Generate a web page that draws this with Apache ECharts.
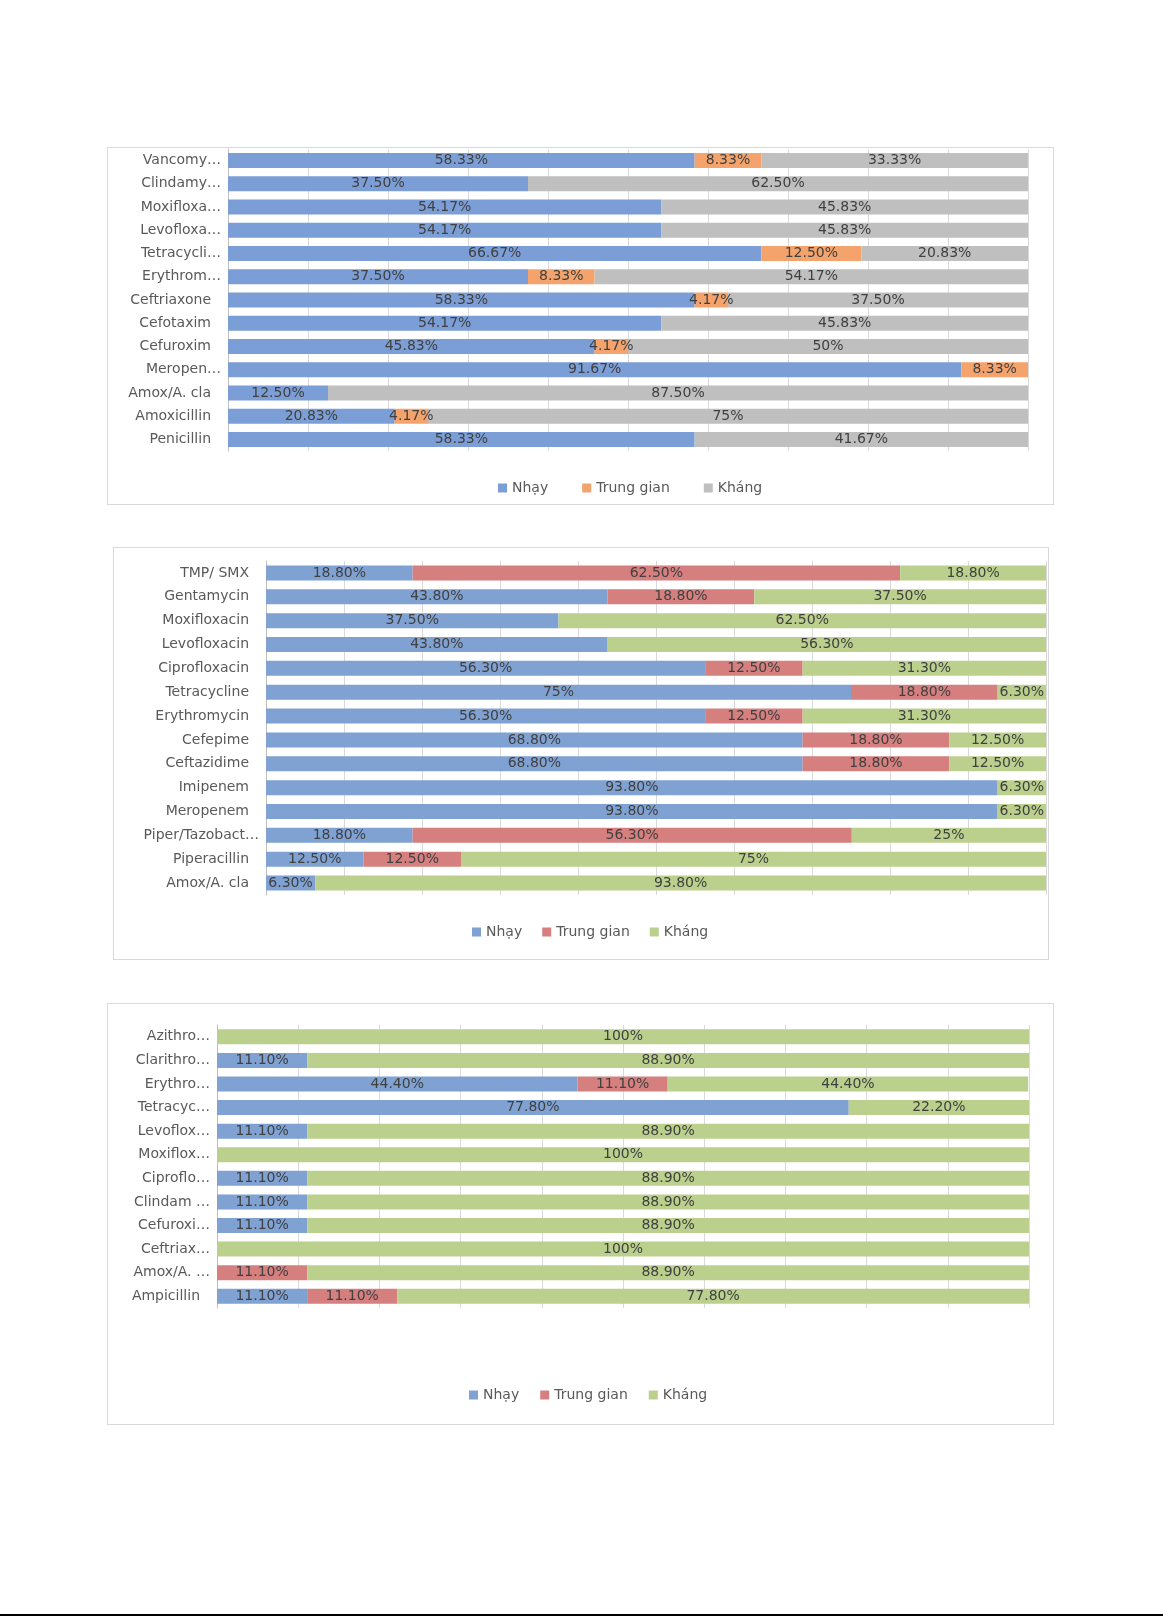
<!DOCTYPE html>
<html>
<head>
<meta charset="utf-8">
<script src="https://cdn.jsdelivr.net/npm/echarts@6/dist/echarts.min.js"></script>
<style>
  html, body { margin: 0; padding: 0; background: #fff; }
  body { width: 1163px; height: 1617px; position: relative; overflow: hidden; }
  .box { position: absolute; border: 1px solid #d9d9d9; box-sizing: border-box; background: #fff; }
  #pageline { position: absolute; left: 0; top: 1614px; width: 1163px; height: 2px; background: #000; }
</style>
</head>
<body>
<div id="c1" class="box" style="left:107px;top:147px;width:947px;height:358px;"></div>
<div id="c2" class="box" style="left:113px;top:547px;width:936px;height:413px;"></div>
<div id="c3" class="box" style="left:107px;top:1003px;width:947px;height:422px;"></div>
<div id="pageline"></div>
<script>
const seriesNames = ['Nhạy', 'Trung gian', 'Kháng'];

// Chart 1
const cats1 = ['Vancomy…', 'Clindamy…', 'Moxifloxa…', 'Levofloxa…', 'Tetracycli…', 'Erythrom…', 'Ceftriaxone', 'Cefotaxim', 'Cefuroxim', 'Meropen…', 'Amox/A. cla', 'Amoxicillin', 'Penicillin'];
const nhay1  = [58.33, 37.50, 54.17, 54.17, 66.67, 37.50, 58.33, 54.17, 45.83, 91.67, 12.50, 20.83, 58.33];
const trung1 = [8.33, 0, 0, 0, 12.50, 8.33, 4.17, 0, 4.17, 8.33, 0, 4.17, 0];
const khang1 = [33.33, 62.50, 45.83, 45.83, 20.83, 54.17, 37.50, 45.83, 50, 0, 87.50, 75, 41.67];

// Chart 2
const cats2 = ['TMP/ SMX', 'Gentamycin', 'Moxifloxacin', 'Levofloxacin', 'Ciprofloxacin', 'Tetracycline', 'Erythromycin', 'Cefepime', 'Ceftazidime', 'Imipenem', 'Meropenem', 'Piper/Tazobact…', 'Piperacillin', 'Amox/A. cla'];
const nhay2  = [18.80, 43.80, 37.50, 43.80, 56.30, 75, 56.30, 68.80, 68.80, 93.80, 93.80, 18.80, 12.50, 6.30];
const trung2 = [62.50, 18.80, 0, 0, 12.50, 18.80, 12.50, 18.80, 18.80, 0, 0, 56.30, 12.50, 0];
const khang2 = [18.80, 37.50, 62.50, 56.30, 31.30, 6.30, 31.30, 12.50, 12.50, 6.30, 6.30, 25, 75, 93.80];

// Chart 3
const cats3 = ['Azithro…', 'Clarithro…', 'Erythro…', 'Tetracyc…', 'Levoflox…', 'Moxiflox…', 'Ciproflo…', 'Clindam …', 'Cefuroxi…', 'Ceftriax…', 'Amox/A. …', 'Ampicillin'];
const nhay3  = [0, 11.10, 44.40, 77.80, 11.10, 0, 11.10, 11.10, 11.10, 0, 0, 11.10];
const trung3 = [0, 0, 11.10, 0, 0, 0, 0, 0, 0, 0, 11.10, 11.10];
const khang3 = [100, 88.90, 44.40, 22.20, 88.90, 100, 88.90, 88.90, 88.90, 100, 88.90, 77.80];

const FONT = 'DejaVu Sans';

function fmt(p) {
  const v = p.value;
  if (!v) return '';
  return (Number.isInteger(v) ? String(v) : v.toFixed(2)) + '%';
}

function catFmt(v) {
  return v.endsWith('…') ? '{t|' + v + '}' : '{f|' + v + '}';
}

function makeOption(cats, n, t, k, colors, cfg) {
  const vals = [n, t, k];
  const lab = { fontFamily: FONT, fontSize: 14, color: '#595959' };
  return {
    animation: false,
    color: colors,
    textStyle: { fontFamily: FONT },
    grid: { left: cfg.gl, right: cfg.gr, top: cfg.gt, bottom: cfg.gb },
    legend: {
      data: seriesNames,
      left: cfg.legLeft,
      top: cfg.legTop,
      itemWidth: 9, itemHeight: 9, itemGap: cfg.legGap,
      icon: 'rect',
      textStyle: { fontFamily: FONT, fontSize: 14, color: '#595959' }
    },
    xAxis: {
      type: 'value', min: 0, max: 100, interval: 10,
      axisLabel: { show: false }, axisTick: { show: false }, axisLine: { show: false },
      splitLine: { show: true, lineStyle: { color: '#d9d9d9', width: 1 } }
    },
    yAxis: {
      type: 'category', data: cats, inverse: true,
      axisTick: { show: false },
      axisLine: { show: true, lineStyle: { color: '#bfbfbf', width: 1 } },
      axisLabel: {
        fontFamily: FONT, fontSize: 14, color: '#595959', margin: 7,
        formatter: catFmt,
        rich: {
          t: Object.assign({}, lab),
          f: Object.assign({ padding: [0, 10, 0, 0] }, lab)
        }
      }
    },
    series: seriesNames.map((name, i) => ({
      name: name, type: 'bar', stack: 'total', barWidth: 15,
      data: vals[i],
      label: { show: true, position: 'inside', formatter: fmt, fontFamily: FONT, fontSize: 14, color: '#404040' }
    }))
  };
}

const ch1 = echarts.init(document.getElementById('c1'));
ch1.setOption(makeOption(cats1, nhay1, trung1, khang1, ['#7b9ed6', '#f4a36c', '#bfbfbf'],
  { gl: 120, gr: 25, gt: 1, gb: 53, legLeft: 385, legTop: 328, legGap: 34 }));

const ch2 = echarts.init(document.getElementById('c2'));
ch2.setOption(makeOption(cats2, nhay2, trung2, khang2, ['#7fa2d3', '#d57f7f', '#bcd08e'],
  { gl: 152, gr: 2, gt: 13, gb: 64, legLeft: 353, legTop: 372, legGap: 20 }));

const ch3 = echarts.init(document.getElementById('c3'));
ch3.setOption(makeOption(cats3, nhay3, trung3, khang3, ['#7fa2d3', '#d57f7f', '#bcd08e'],
  { gl: 109, gr: 24, gt: 21, gb: 116, legLeft: 356, legTop: 379, legGap: 21 }));
</script>
</body>
</html>
